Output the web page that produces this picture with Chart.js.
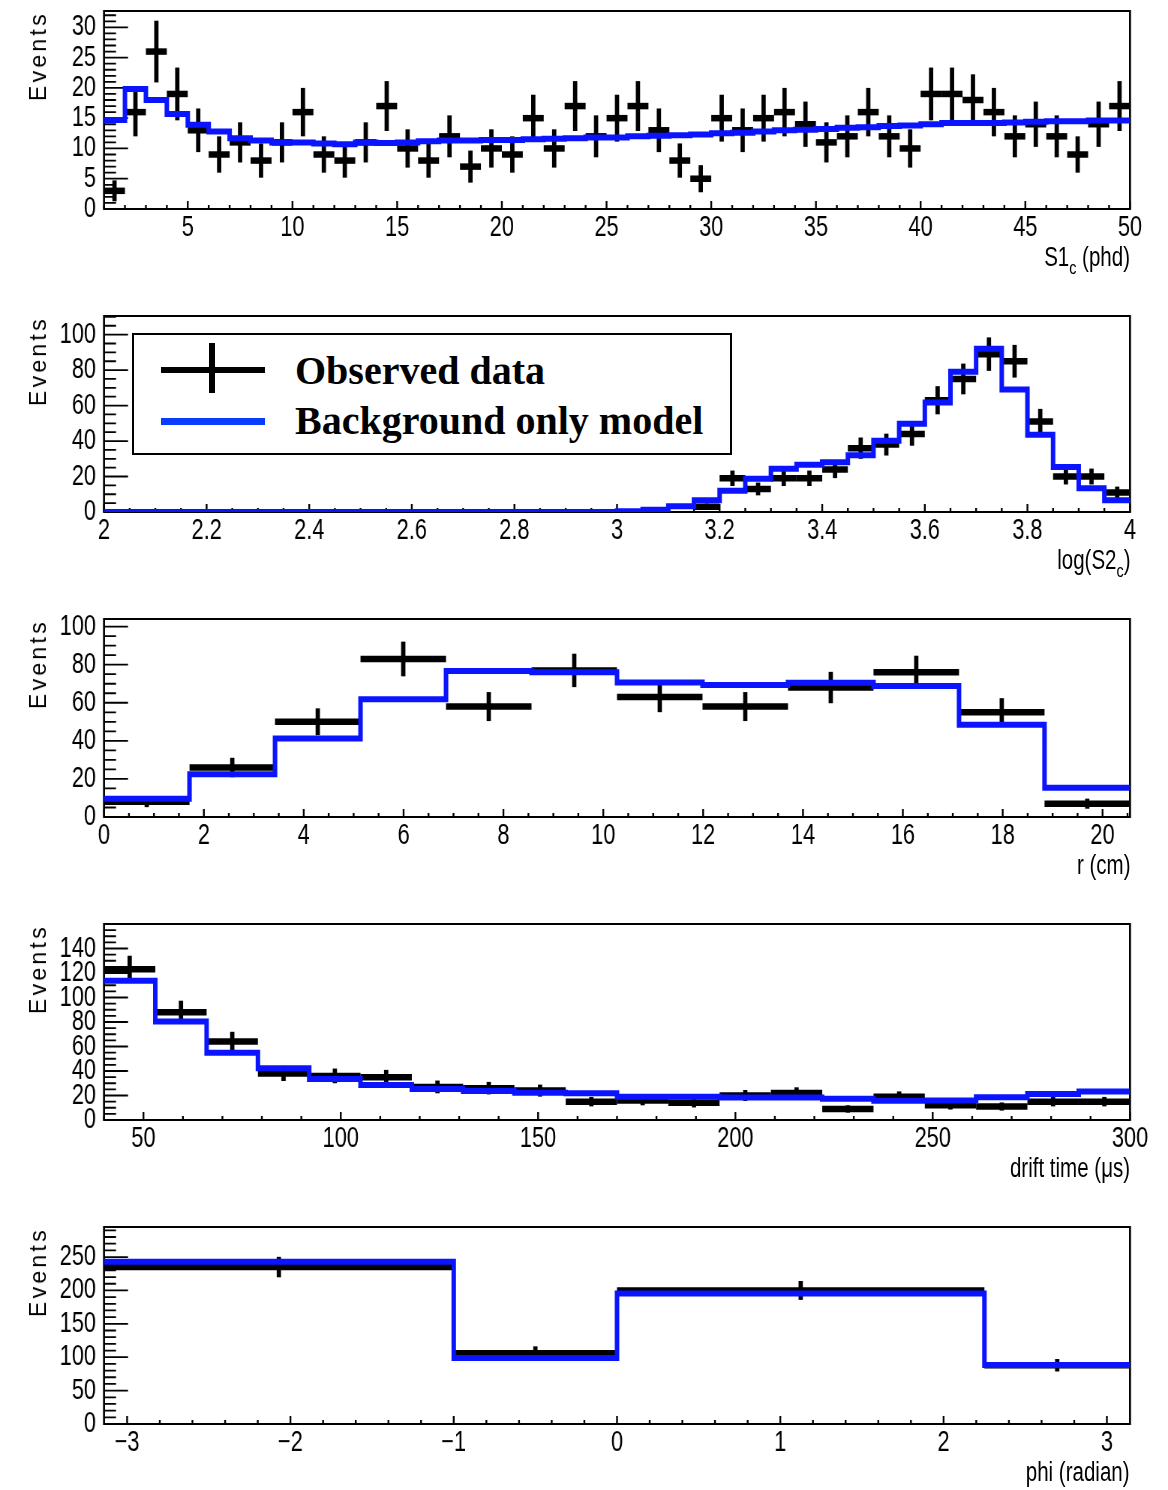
<!DOCTYPE html>
<html>
<head>
<meta charset="utf-8">
<script src="https://cdn.jsdelivr.net/npm/chart.js@4.4.0/dist/chart.umd.min.js"></script>
<style>
  body { margin: 0; background: #fff; width: 1168px; height: 1490px; position: relative; overflow: hidden; }
  .panel { position: absolute; left: 0; }
  .ytitle { position: absolute; left: 25px; font: 23px "Liberation Sans", Arial, sans-serif; letter-spacing: 3.3px;
            writing-mode: vertical-rl; transform: rotate(180deg); line-height: 26px; white-space: nowrap; color: #000; }
  .xtitle { position: absolute; right: 38px; font: 27px "Liberation Sans", Arial, sans-serif;
            line-height: 27px; white-space: nowrap; color: #000; transform: scaleX(0.76); transform-origin: right center; }
  .xtitle sub { font-size: 70%; vertical-align: -0.4em; line-height: 0; }
  #legend { position: absolute; left: 132px; top: 333px; width: 596px; height: 118px; border: 2px solid #000; background: #fff; }
  .leg-h { position: absolute; background: #000; }
  .leg-text { position: absolute; left: 295px; font: bold 40px "Liberation Serif", "DejaVu Serif", serif; line-height: 40px; white-space: nowrap; color: #000; }
</style>
</head>
<body>
<script>
// bin helpers
function uniformEdges(lo, hi, n) {
  const e = [];
  for (let i = 0; i <= n; i++) e.push(lo + (hi - lo) * i / n);
  return e;
}

// S1c (phd), 1 phd bins
const s1Edges = uniformEdges(1, 50, 49);
const s1Observed = [3, 16, 26, 19, 13, 9, 11, 8, 11, 16, 9, 8, 11, 17, 10, 8, 12, 7, 10, 9,
                    15, 10, 17, 12, 15, 17, 13, 8, 5, 15, 13, 15, 16, 14, 11, 12, 16, 12, 10, 19,
                    19, 18, 16, 12, 14, 12, 9, 14, 17];
const s1Model = [14.7, 19.8, 18.0, 15.7, 13.9, 12.8, 11.7, 11.3, 11.0, 11.0, 10.8, 10.7, 11.0, 10.9, 11.0,
                 11.2, 11.3, 11.3, 11.4, 11.4, 11.5, 11.6, 11.7, 11.8, 11.8, 12.0, 12.1, 12.2, 12.3, 12.5,
                 12.6, 12.8, 13.0, 13.1, 13.2, 13.4, 13.5, 13.7, 13.8, 14.0, 14.2, 14.2, 14.2, 14.3, 14.4,
                 14.5, 14.5, 14.6, 14.6];
const s1XTicks = [5, 10, 15, 20, 25, 30, 35, 40, 45, 50];
const s1YTicks = [0, 5, 10, 15, 20, 25, 30];

// log(S2c), 0.05 bins
const s2Edges = uniformEdges(2, 4, 40);
const s2Observed = [0, 0, 0, 0, 0, 0, 0, 0, 0, 0, 0, 0, 0, 0, 0, 0, 0, 0, 0, 0,
                    0, 0, 0, 3, 19, 13, 19, 19, 24, 36, 38, 44, 63, 75, 89, 85, 51, 20, 20, 11];
const s2Model = [0, 0, 0, 0, 0, 0, 0, 0, 0, 0, 0, 0, 0, 0, 0, 0, 0, 0, 0, 0,
                 0.4, 1.3, 3.2, 6.6, 12.0, 18.8, 24.4, 26.7, 28.0, 32.0, 40.2, 49.8, 61.8, 79.0, 92.1,
                 69.0, 43.6, 25.4, 13.4, 6.6];
const s2XTicks = [2, 2.2, 2.4, 2.6, 2.8, 3, 3.2, 3.4, 3.6, 3.8, 4];
const s2YTicks = [0, 20, 40, 60, 80, 100];

// r (cm)
const rEdges = uniformEdges(0, 20.55, 12);
const rObserved = [8, 26, 50, 83, 58, 77, 63, 58, 68, 76, 55, 7];
const rModel = [9.6, 22.5, 41.2, 61.8, 76.7, 76.0, 70.7, 69.3, 70.5, 68.8, 48.4, 15.4];
const rXTicks = [0, 2, 4, 6, 8, 10, 12, 14, 16, 18, 20];
const rYTicks = [0, 20, 40, 60, 80, 100];

// drift time (us), 13 us bins
const dtEdges = uniformEdges(40, 300, 20);
const dtObserved = [123, 88, 64, 38, 36, 35, 27, 26, 24, 15, 16, 14, 20, 22, 9, 19, 12, 11, 15, 15];
const dtModel = [113.6, 80.4, 55.0, 42.2, 33.5, 28.6, 25.3, 23.7, 22.3, 21.8, 19.0, 19.0, 18.3, 18.3,
                 17.4, 15.8, 16.0, 18.5, 21.3, 23.2];
const dtXTicks = [50, 100, 150, 200, 250, 300];
const dtYTicks = [0, 20, 40, 60, 80, 100, 120, 140];

// phi (radian)
const phiEdges = [-Math.PI, -1, 0, 2.25, Math.PI];
const phiObserved = [235, 106, 200, 88];
const phiModel = [243, 99, 195.5, 88.5];
const phiXTicks = [-3, -2, -1, 0, 1, 2, 3];
const phiYTicks = [0, 50, 100, 150, 200, 250];

const panels = [
  { top: 11, bottom: 209, edges: s1Edges, observed: s1Observed, model: s1Model, xTicks: s1XTicks, yTicks: s1YTicks,
    xMinor: 1, yMinor: 1, yMax: 32.7, title: 'S1<sub>c</sub> (phd)' },
  { top: 316, bottom: 512, edges: s2Edges, observed: s2Observed, model: s2Model, xTicks: s2XTicks, yTicks: s2YTicks,
    xMinor: 0.05, yMinor: 5, yMax: 110.5, title: 'log(S2<sub>c</sub>)' },
  { top: 619, bottom: 817, edges: rEdges, observed: rObserved, model: rModel, xTicks: rXTicks, yTicks: rYTicks,
    xMinor: 0.5, yMinor: 5, yMax: 104, title: 'r (cm)' },
  { top: 924, bottom: 1120, edges: dtEdges, observed: dtObserved, model: dtModel, xTicks: dtXTicks, yTicks: dtYTicks,
    xMinor: 10, yMinor: 5, yMax: 160, title: 'drift time (&mu;s)' },
  { top: 1227, bottom: 1424, edges: phiEdges, observed: phiObserved, model: phiModel, xTicks: phiXTicks, yTicks: phiYTicks,
    xMinor: 0.2, yMinor: 10, yMax: 295, title: 'phi (radian)' }
];

// canvases are drawn wide and squeezed horizontally, so text comes out narrow
const SX = 0.75;
const PAGE_W = 1168, FRAME_L = 104, FRAME_R = 1130;
const CW = Math.round(PAGE_W / SX);
const sx = CW / PAGE_W;

const tickFont = { family: '"Liberation Sans", Arial, sans-serif', size: 29, lineHeight: 1 };

function fmt(v) {
  const s = String(Math.round(v * 100) / 100);
  return s.replace('-', '\u2212');
}

function near(v, list) {
  return list.some(t => Math.abs(t - v) < 1e-6);
}

// frame, inward ticks and data crosses with sqrt(N) errors
const rootAxes = {
  id: 'rootAxes',
  beforeDatasetsDraw(chart, args, opts) {
    const { ctx, chartArea: a } = chart;
    const xs = chart.scales.x, ys = chart.scales.y;
    ctx.save();
    ctx.strokeStyle = '#000';

    ctx.lineWidth = 1.8 * sx;
    ctx.beginPath();
    const x0 = Math.ceil(xs.min / opts.xMinor - 1e-6);
    for (let k = x0; k * opts.xMinor <= xs.max + 1e-6; k++) {
      const v = k * opts.xMinor;
      const px = xs.getPixelForValue(v);
      const len = near(v, opts.xTicks) ? 8 : 4;
      ctx.moveTo(px, a.bottom);
      ctx.lineTo(px, a.bottom - len);
    }
    ctx.stroke();

    ctx.lineWidth = 1.8;
    ctx.beginPath();
    const y0 = Math.ceil(ys.min / opts.yMinor - 1e-6);
    for (let k = y0; k * opts.yMinor <= ys.max + 1e-6; k++) {
      const v = k * opts.yMinor;
      const py = ys.getPixelForValue(v);
      const len = (near(v, opts.yTicks) ? 24 : 12) * sx;
      ctx.moveTo(a.left, py);
      ctx.lineTo(a.left + len, py);
    }
    ctx.stroke();

    // frame: horizontal and vertical sides kept equally thick on screen
    ctx.lineWidth = 2;
    ctx.beginPath();
    ctx.moveTo(a.left, a.top); ctx.lineTo(a.right, a.top);
    ctx.moveTo(a.left, a.bottom); ctx.lineTo(a.right, a.bottom);
    ctx.stroke();
    ctx.lineWidth = 2 * sx;
    ctx.beginPath();
    ctx.moveTo(a.left, a.top - 1); ctx.lineTo(a.left, a.bottom + 1);
    ctx.moveTo(a.right, a.top - 1); ctx.lineTo(a.right, a.bottom + 1);
    ctx.stroke();

    const meta = chart.getDatasetMeta(0);
    const pts = chart.data.datasets[0].data;
    meta.data.forEach((el, i) => {
      const p = pts[i];
      const err = Math.sqrt(p.y);
      ctx.lineWidth = 6.5;
      ctx.beginPath();
      ctx.moveTo(xs.getPixelForValue(p.lo), el.y);
      ctx.lineTo(xs.getPixelForValue(p.hi), el.y);
      ctx.stroke();
      ctx.lineWidth = 4.3 * sx;
      ctx.beginPath();
      ctx.moveTo(el.x, ys.getPixelForValue(p.y + err));
      ctx.lineTo(el.x, ys.getPixelForValue(p.y - err));
      ctx.stroke();
    });
    ctx.restore();
  }
};

panels.forEach(p => {
  const padTop = 10, xAxisH = 45;
  const h = p.bottom - p.top + padTop + xAxisH;
  const canvas = document.createElement('canvas');
  canvas.className = 'panel';
  canvas.width = CW;
  canvas.height = h;
  canvas.style.width = PAGE_W + 'px';
  canvas.style.height = h + 'px';
  canvas.style.top = (p.top - padTop) + 'px';
  document.body.appendChild(canvas);

  const obsPoints = [];
  p.observed.forEach((n, i) => {
    if (n > 0) obsPoints.push({ x: (p.edges[i] + p.edges[i + 1]) / 2, y: n, lo: p.edges[i], hi: p.edges[i + 1] });
  });
  const modelPoints = p.model.map((v, i) => ({ x: p.edges[i], y: v }));
  modelPoints.push({ x: p.edges[p.edges.length - 1], y: p.model[p.model.length - 1] });

  new Chart(canvas.getContext('2d'), {
    type: 'line',
    data: {
      datasets: [
        { type: 'scatter', label: 'Observed data', data: obsPoints, pointRadius: 0, pointHoverRadius: 0, showLine: false },
        { type: 'line', label: 'Background only model', data: modelPoints, stepped: true,
          borderColor: '#0a14ff', borderWidth: 6, pointRadius: 0, fill: false }
      ]
    },
    options: {
      responsive: false,
      animation: false,
      devicePixelRatio: 1,
      layout: { padding: { top: padTop, right: (PAGE_W - FRAME_R) * sx, left: 0, bottom: 0 } },
      plugins: {
        legend: { display: false },
        tooltip: { enabled: false },
        rootAxes: { xMinor: p.xMinor, yMinor: p.yMinor, xTicks: p.xTicks, yTicks: p.yTicks }
      },
      scales: {
        x: {
          type: 'linear',
          min: p.edges[0],
          max: p.edges[p.edges.length - 1],
          grid: { display: false, drawTicks: false },
          border: { display: false },
          afterBuildTicks: s => { s.ticks = p.xTicks.map(v => ({ value: v })); },
          afterFit: s => { s.height = xAxisH; s.paddingLeft = 0; s.paddingRight = 0; },
          ticks: { autoSkip: false, maxRotation: 0, padding: 4, color: '#000', font: tickFont, callback: v => fmt(v) }
        },
        y: {
          type: 'linear',
          min: 0,
          max: p.yMax,
          grid: { display: false, drawTicks: false },
          border: { display: false },
          afterBuildTicks: s => { s.ticks = p.yTicks.map(v => ({ value: v })); },
          afterFit: s => { s.width = FRAME_L * sx; s.paddingTop = 0; s.paddingBottom = 0; },
          ticks: { autoSkip: false, padding: 8 * sx, color: '#000', font: tickFont, callback: v => fmt(v) }
        }
      }
    },
    plugins: [rootAxes]
  });

  const yt = document.createElement('div');
  yt.className = 'ytitle';
  yt.textContent = 'Events';
  yt.style.top = p.top + 'px';
  document.body.appendChild(yt);

  const xt = document.createElement('div');
  xt.className = 'xtitle';
  xt.innerHTML = p.title;
  xt.style.top = (p.bottom + 58 - 23) + 'px';
  document.body.appendChild(xt);
});
</script>
<div id="legend"></div>
<div class="leg-h" style="left:161px; top:367px; width:104px; height:6px;"></div>
<div class="leg-h" style="left:209px; top:343px; width:6px; height:50px;"></div>
<div class="leg-h" style="left:161px; top:418px; width:104px; height:7px; background:#0a3cff;"></div>
<div class="leg-text" style="top:351px;">Observed data</div>
<div class="leg-text" style="top:401px;">Background only model</div>
</body>
</html>
